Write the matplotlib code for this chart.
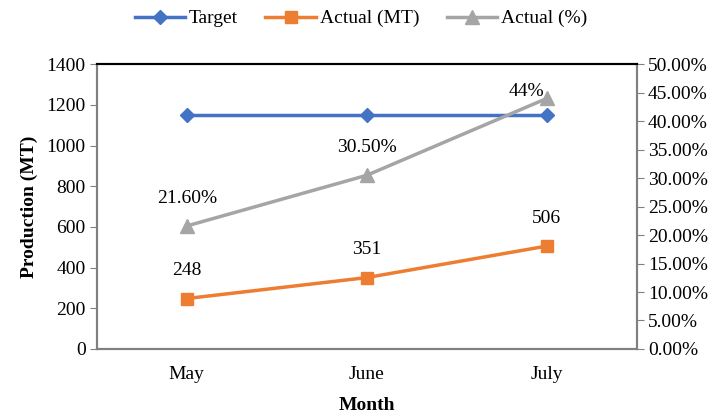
import numpy as np
import matplotlib
matplotlib.use("Agg")
import matplotlib.pyplot as plt
from matplotlib.ticker import FuncFormatter

plt.rcParams['font.family'] = ['Liberation Serif', 'DejaVu Serif']

months = ["May", "June", "July"]
target = [1150, 1150, 1150]
actual_mt = [248, 351, 506]
actual_pct = [21.6, 30.5, 44.0]
pct_labels = ["21.60%", "30.50%", "44%"]

blue = "#4472C4"
orange = "#ED7D31"
gray = "#A5A5A5"

fig = plt.figure(figsize=(7.22, 4.12), dpi=100)
ax = fig.add_axes([0.134, 0.153, 0.748, 0.691])
ax2 = ax.twinx()

x = np.arange(len(months))
l1, = ax.plot(x, target, color=blue, lw=2.5, marker="D", ms=7.5, label="Target")
l2, = ax.plot(x, actual_mt, color=orange, lw=2.5, marker="s", ms=9, label="Actual (MT)")
l3, = ax2.plot(x, actual_pct, color=gray, lw=2.5, marker="^", ms=10, label="Actual (%)")

# etiquetas de datos
for xi, v in zip(x, actual_mt):
    ax.annotate(str(v), (xi, v), xytext=(0, 20), textcoords="offset points",
                ha="center", va="center", fontsize=14)
for xi, v, t in zip(x, actual_pct, pct_labels):
    if xi == 2:
        ax2.annotate(t, (xi, v), xytext=(-2, 5), textcoords="offset points",
                     ha="right", va="center", fontsize=14)
    else:
        ax2.annotate(t, (xi, v), xytext=(0, 20), textcoords="offset points",
                     ha="center", va="center", fontsize=14)

ax.set_xlim(-0.5, 2.5)
ax.set_ylim(0, 1400)
ax.set_yticks(np.arange(0, 1401, 200))
ax2.set_ylim(0, 50)
ax2.set_yticks(np.arange(0, 50.1, 5))
ax2.yaxis.set_major_formatter(FuncFormatter(lambda v, p: f"{v:.2f}%"))

ax.set_xticks(x)
ax.set_xticklabels(months)
ax.tick_params(axis="x", length=0, labelsize=14, pad=12)
ax.tick_params(axis="y", labelsize=14, color="#808080", length=5, pad=3)
ax2.tick_params(axis="y", labelsize=14, color="#808080", length=5, pad=3)

for a in (ax, ax2):
    for s in ("left", "right", "bottom"):
        a.spines[s].set_color("#808080")
        a.spines[s].set_linewidth(1.5)
    a.spines["top"].set_color("black")
    a.spines["top"].set_linewidth(1.5)

ax.set_xlabel("Month", fontsize=14, fontweight="bold", labelpad=10)
ax.set_ylabel("Production (MT)", fontsize=14, fontweight="bold", labelpad=6)

fig.legend(handles=[l1, l2, l3], loc="center", bbox_to_anchor=(0.5, 0.955),
           ncol=3, frameon=False, fontsize=14, handlelength=2.6, columnspacing=1.4,
           handletextpad=0.2)

fig.savefig("out.png", dpi=100)
